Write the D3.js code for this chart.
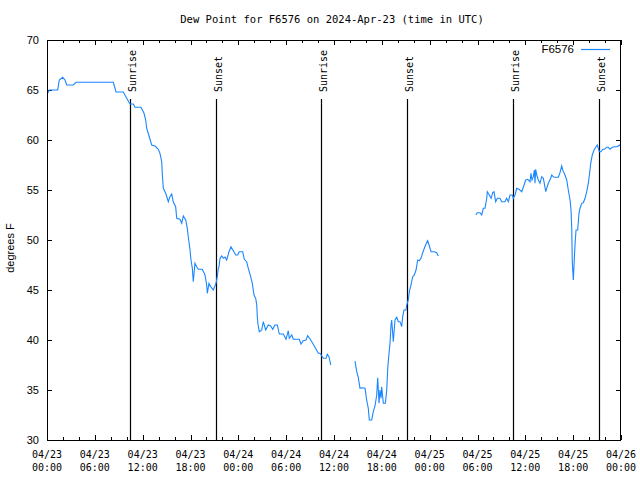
<!DOCTYPE html>
<html>
<head>
<meta charset="utf-8">
<script src="https://cdn.jsdelivr.net/npm/d3@7"></script>
<style>
  body { margin: 0; background: #fff; }
  svg { display: block; }
</style>
</head>
<body>
<svg id="chart" width="640" height="480"></svg>
<script>
// ---- data (hours since 2024-04-23 00:00 UTC, dew point °F; null = gap) ----
const hours = [
  0.09, 0.29, 1.34, 1.54, 1.97, 2.26, 2.47, 3.30, 3.64, 8.32, 8.66, 9.57, 10.0, 10.41, 10.83, 11.04, 11.79,
  12.17, 12.38, 12.51, 12.80, 13.13, 13.55, 13.96, 14.17, 14.39, 14.46, 14.59, 14.89, 15.22, 15.43, 15.64,
  15.84, 16.14, 16.27, 16.68, 16.90, 17.10, 17.40, 17.60, 17.72, 17.94, 18.06, 18.23, 18.35, 18.56, 18.78,
  18.98, 19.48, 19.82, 20.03, 20.11, 20.32, 20.53, 20.86, 21.20, 21.36, 21.49, 21.58, 21.70, 21.92, 22.12,
  22.33, 22.54, 22.83, 23.08, 23.37, 23.67, 23.92, 24.12, 24.55, 24.75, 25.05, 25.25, 25.55, 25.75, 25.97,
  26.18, 26.31, 26.38, 26.45, 26.63, 26.93, 27.13, 27.43, 27.76, 28.06, 28.31, 28.60, 28.89, 29.14, 29.64,
  29.98, 30.27, 30.39, 30.70, 30.90, 31.65, 31.86, 32.15, 32.49, 32.70, 33.08, 33.62, 34.03, 34.24, 34.66,
  35.00, 35.16, 35.37, 35.59,
  37.0,
  38.63, 38.85, 39.05, 39.26, 39.48, 39.89, 40.10, 40.30, 40.43, 40.73, 40.93, 41.14, 41.36, 41.48, 41.65,
  41.77, 41.90, 41.98, 42.19, 42.44, 42.61, 42.74, 42.90, 43.03, 43.15, 43.24, 43.44, 43.65, 43.87, 44.07,
  44.28, 44.49, 44.62, 44.78, 45.03, 45.12, 45.32, 45.45, 45.66, 45.87, 46.07, 46.29, 46.50, 46.70, 46.91,
  47.13, 47.33, 47.54, 47.75, 47.96, 48.17, 48.58, 48.88, 49.08,
  51.0,
  53.78, 53.98, 54.32, 54.53, 54.73, 54.94, 55.16, 55.23, 55.48, 55.70, 55.91, 56.07, 56.28, 56.49, 56.82,
  57.04, 57.45, 57.66, 57.87, 58.08, 58.37, 58.49, 58.71, 58.92, 59.21, 59.55, 59.84, 60.05, 60.30, 60.59,
  60.71, 60.84, 61.00, 61.13, 61.21, 61.30, 61.43, 61.63, 61.84, 62.05, 62.26, 62.56, 62.68, 62.88, 63.18,
  63.31, 63.60, 64.14, 64.35, 64.56, 64.76, 64.89, 65.19, 65.39, 65.61, 65.73, 65.82, 65.89, 66.02, 66.11,
  66.23, 66.36, 66.57, 66.73, 66.86, 67.07, 67.27, 67.49, 67.70, 67.90, 68.11, 68.20, 68.40, 68.62, 68.87,
  69.03, 69.28, 69.49, 69.71, 69.91, 70.21, 70.41, 70.62, 70.90, 71.25, 71.54, 71.79, 71.97
];
const dewPoint = [
  64.67, 65.0, 65.0, 66.0, 66.27, 66.0, 65.5, 65.5, 65.77, 65.77, 64.8, 64.8, 64.17, 63.6, 63.6, 63.27, 63.27,
  62.67, 62.0, 61.17, 60.4, 59.5, 59.4, 59.07, 58.67, 57.8, 56.67, 55.17, 54.67, 53.83, 54.33, 54.6,
  53.8, 53.33, 52.17, 52.07, 51.67, 52.4, 52.0, 51.17, 50.33, 49.0, 48.0, 47.17, 45.83, 47.67, 47.33,
  47.07, 47.07, 46.5, 45.5, 44.67, 45.67, 45.33, 45.0, 45.67, 46.33, 47.17, 47.33, 48.17, 48.4, 48.17,
  48.3, 48.0, 48.83, 49.33, 48.93, 48.5, 48.5, 48.83, 48.83, 48.07, 47.83, 47.17, 46.33, 45.67, 44.5,
  44.17, 43.5, 42.33, 41.67, 40.83, 41.0, 41.83, 41.0, 41.5, 41.4, 41.07, 41.5, 41.5, 40.6, 40.6,
  40.07, 40.93, 40.17, 40.5, 40.07, 40.07, 39.6, 39.93, 40.0, 40.43, 40.0, 39.27, 38.67, 38.67, 38.17,
  38.17, 38.57, 38.33, 37.5,
  null,
  37.9, 36.83, 36.23, 35.17, 35.23, 35.17, 34.0, 33.17, 32.0, 32.0, 32.83, 33.4, 34.5, 36.23, 33.67,
  35.0, 34.17, 35.33, 33.67, 33.67, 34.9, 37.17, 38.67, 39.67, 41.5, 42.0, 39.83, 42.0, 42.27, 41.83,
  41.83, 41.33, 42.33, 43.0, 43.0, 43.5, 44.0, 44.83, 45.5, 46.33, 46.5, 47.0, 48.0, 47.93, 48.17,
  48.73, 49.17, 49.6, 49.93, 49.4, 48.83, 48.83, 48.73, 48.4,
  null,
  52.5, 52.73, 52.73, 52.5, 53.17, 53.17, 54.17, 54.83, 54.5, 54.17, 54.73, 54.83, 53.83, 54.17, 54.17,
  53.83, 53.83, 54.17, 53.83, 54.5, 54.5, 54.17, 54.5, 55.17, 55.07, 54.83, 55.5, 56.0, 56.07, 55.83,
  56.67, 56.0, 56.33, 57.0, 55.67, 57.07, 56.5, 56.0, 55.67, 56.33, 56.17, 54.83, 55.17, 55.67, 56.17,
  56.5, 56.27, 56.27, 56.73, 57.4, 56.83, 56.67, 56.0, 55.0, 54.0, 53.0, 51.17, 47.83, 46.0, 47.5,
  49.5, 51.0, 51.0, 52.67, 53.17, 53.67, 53.73, 54.17, 54.83, 55.67, 57.0, 57.67, 58.5, 59.0, 59.33,
  59.5, 58.83, 58.83, 59.07, 59.07, 59.27, 59.27, 59.07, 59.27, 59.33, 59.33, 59.5, 59.33
];
const sunEvents = ["Sunrise", "Sunset", "Sunrise", "Sunset", "Sunrise", "Sunset"];
const sunHours = [10.41, 21.2, 34.41, 45.2, 58.49, 69.28];
const yTicks = [30, 35, 40, 45, 50, 55, 60, 65, 70];
const xTickHours = [0, 6, 12, 18, 24, 30, 36, 42, 48, 54, 60, 66, 72];
const seriesName = "F6576";
const titleText = "Dew Point for F6576 on 2024-Apr-23 (time in UTC)";
const yLabelText = "degrees F";

// ---- layout ----
const start = Date.UTC(2024, 3, 23, 0, 0);
const toDate = h => new Date(start + h * 3600e3);
const svg = d3.select("#chart");
const W = 640, H = 480;
const m = { left: 47, right: 19, top: 40, bottom: 40 };
const x = d3.scaleUtc().domain([toDate(0), toDate(72)]).range([m.left, W - m.right]);
const y = d3.scaleLinear().domain([30, 70]).range([H - m.bottom, m.top]);
const mono = "'DejaVu Sans Mono', monospace";
const sans = "'Liberation Sans', Arial, sans-serif";
const lineColor = "#1a86ff";

svg.append("rect").attr("width", W).attr("height", H).attr("fill", "#fff");

// title
svg.append("text").attr("x", 332).attr("y", 23).attr("text-anchor", "middle")
  .attr("font-family", mono).attr("font-size", 10.5).text(titleText);

// y label
svg.append("text").attr("transform", "translate(14,248) rotate(-90)").attr("text-anchor", "middle")
  .attr("font-family", sans).attr("font-size", 11).attr("fill", "#000").text(yLabelText);

// axes ticks (inside) via d3 axes
const xMajor = xTickHours.map(toDate);
const xMinor = d3.range(0, 73, 2).filter(h => h % 6 !== 0).map(toDate);
function styleAxis(g) {
  g.select(".domain").remove();
  g.selectAll("line").attr("stroke", "#000").attr("shape-rendering", "crispEdges");
}
svg.append("g").attr("transform", `translate(0,${H - m.bottom})`)
  .call(d3.axisBottom(x).tickValues(xMajor).tickSize(-5).tickFormat(""))
  .call(styleAxis);
svg.append("g").attr("transform", `translate(0,${H - m.bottom})`)
  .call(d3.axisBottom(x).tickValues(xMinor).tickSize(-3).tickFormat(""))
  .call(styleAxis);
svg.append("g").attr("transform", `translate(0,${m.top})`)
  .call(d3.axisTop(x).tickValues(xMajor).tickSize(-5).tickFormat(""))
  .call(styleAxis);
svg.append("g").attr("transform", `translate(0,${m.top})`)
  .call(d3.axisTop(x).tickValues(xMinor).tickSize(-3).tickFormat(""))
  .call(styleAxis);
svg.append("g").attr("transform", `translate(${m.left},0)`)
  .call(d3.axisLeft(y).tickValues(yTicks).tickSize(-5).tickFormat(""))
  .call(styleAxis);
svg.append("g").attr("transform", `translate(${W - m.right},0)`)
  .call(d3.axisRight(y).tickValues(yTicks).tickSize(-5).tickFormat(""))
  .call(styleAxis);

// y tick labels
svg.append("g").selectAll("text").data(yTicks).join("text")
  .attr("x", m.left - 8).attr("y", d => y(d)).attr("dy", "0.35em")
  .attr("text-anchor", "end").attr("font-family", sans).attr("font-size", 11)
  .text(d => d);

// x tick labels (two lines)
const fmtDate = d3.utcFormat("%m/%d"), fmtTime = d3.utcFormat("%H:%M");
const xl = svg.append("g").selectAll("text").data(xMajor).join("text")
  .attr("text-anchor", "middle").attr("font-family", mono).attr("font-size", 10);
xl.append("tspan").attr("x", d => x(d)).attr("y", 458).text(d => fmtDate(d));
xl.append("tspan").attr("x", d => x(d)).attr("y", 471).text(d => fmtTime(d));

// sunrise / sunset lines
const sun = svg.append("g");
sun.selectAll("line").data(sunHours).join("line")
  .attr("x1", d => Math.round(x(toDate(d))) + 0.5).attr("x2", d => Math.round(x(toDate(d))) + 0.5)
  .attr("y1", 99).attr("y2", H - m.bottom)
  .attr("stroke", "#000").attr("stroke-width", 1.2);
sun.selectAll("text").data(sunHours).join("text")
  .attr("transform", d => `translate(${Math.round(x(toDate(d)))},92) rotate(-90)`)
  .attr("dy", "0.55em").attr("text-anchor", "start")
  .attr("font-family", mono).attr("font-size", 10)
  .text((d, i) => sunEvents[i]);

// data line
const pts = hours.map((h, i) => ({ t: toDate(h), v: dewPoint[i] }));
const line = d3.line().defined(d => d.v !== null).x(d => x(d.t)).y(d => y(d.v));
svg.append("path").datum(pts).attr("d", line)
  .attr("fill", "none").attr("stroke", lineColor).attr("stroke-width", 1.1)
  .attr("stroke-linejoin", "miter");

// frame
svg.append("rect").attr("x", m.left + 0.5).attr("y", m.top + 0.5)
  .attr("width", W - m.left - m.right - 1).attr("height", H - m.top - m.bottom)
  .attr("fill", "none").attr("stroke", "#000").attr("stroke-width", 1)
  .attr("shape-rendering", "crispEdges");

// legend
svg.append("text").attr("x", 574).attr("y", 53).attr("text-anchor", "end")
  .attr("font-family", sans).attr("font-size", 11.5).text(seriesName);
svg.append("line").attr("x1", 581).attr("x2", 610).attr("y1", 49.5).attr("y2", 49.5)
  .attr("stroke", lineColor).attr("stroke-width", 1.2);
</script>
</body>
</html>
